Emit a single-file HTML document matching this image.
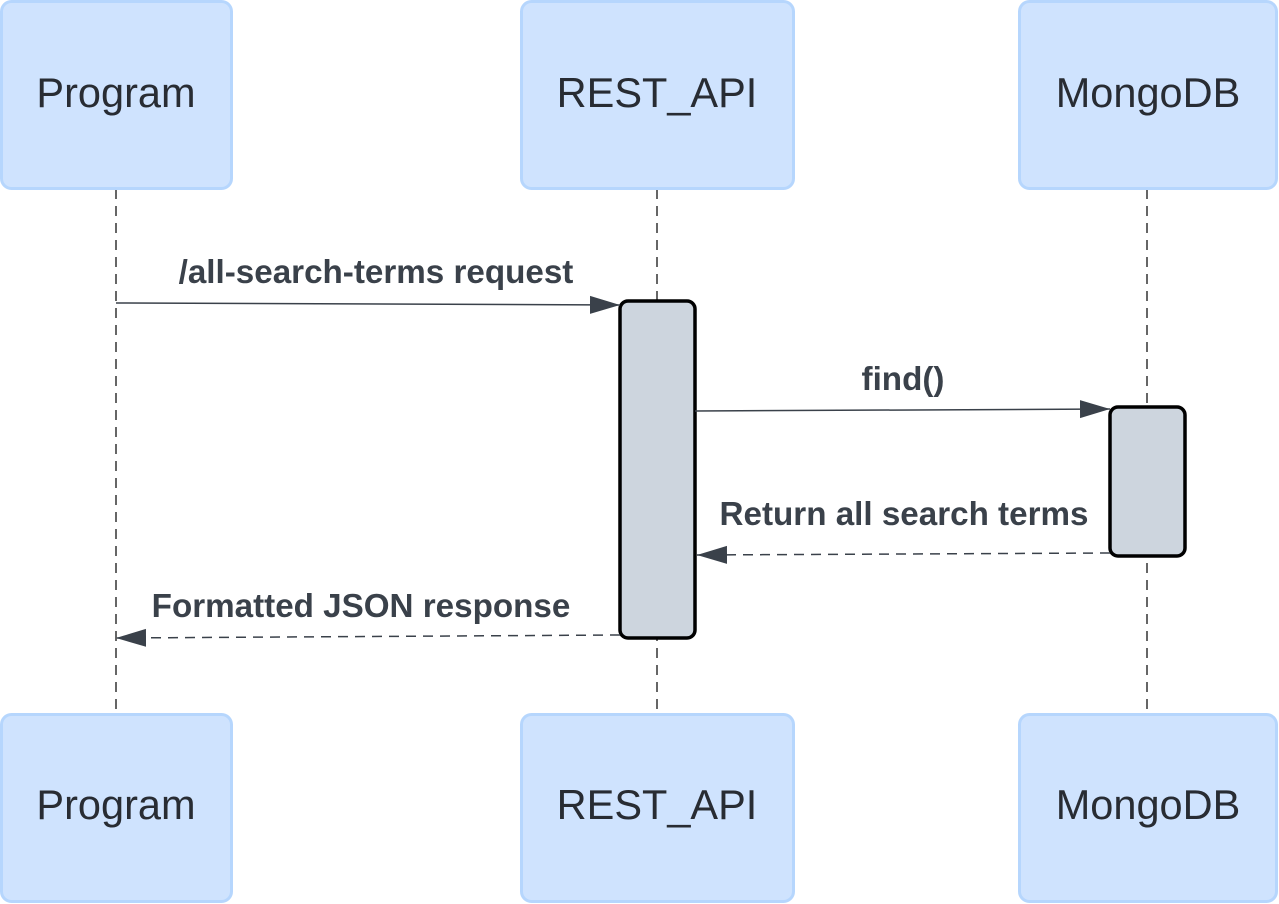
<!DOCTYPE html>
<html><head><style>body{margin:0;background:#fff}svg{display:block}</style></head><body>
<svg width="1279" height="904" xmlns="http://www.w3.org/2000/svg" font-family="Liberation Sans, sans-serif">
<defs>
<marker id="b" viewBox="0 0 30 20" markerWidth="30" markerHeight="20" refX="30" refY="10" orient="auto" markerUnits="userSpaceOnUse">
<path d="M0,1 L30,10 L0,19 z" fill="#3a414a"/></marker>
</defs>
<g stroke="#333" stroke-width="1.5" stroke-dasharray="10,7">
<line x1="116" y1="189" x2="116" y2="714"/>
<line x1="657" y1="189" x2="657" y2="714"/>
<line x1="1147" y1="189" x2="1147" y2="714"/>
</g>
<g fill="#cfe3fe" stroke="#b6d6fd" stroke-width="3">
<rect x="1.5" y="1.5" width="230" height="187" rx="10"/>
<rect x="521.5" y="1.5" width="272" height="187" rx="10"/>
<rect x="1019.5" y="1.5" width="257" height="187" rx="10"/>
<rect x="1.5" y="714.5" width="230" height="187" rx="10"/>
<rect x="521.5" y="714.5" width="272" height="187" rx="10"/>
<rect x="1019.5" y="714.5" width="257" height="187" rx="10"/>
</g>
<g font-size="41.5" fill="#282c33" text-anchor="middle">
<text x="116" y="107">Program</text>
<text x="657" y="107">REST_API</text>
<text x="1148" y="107">MongoDB</text>
<text x="116" y="819">Program</text>
<text x="657" y="819">REST_API</text>
<text x="1148" y="819">MongoDB</text>
</g>
<g fill="#cdd5de" stroke="#000" stroke-width="3.5">
<rect x="620" y="301" width="75" height="337" rx="8"/>
<rect x="1110" y="407" width="75" height="149" rx="8"/>
</g>
<g stroke="#3a414a" stroke-width="1.5" fill="none">
<line x1="116" y1="303" x2="620" y2="305" marker-end="url(#b)"/>
<line x1="695" y1="411" x2="1110" y2="409" marker-end="url(#b)"/>
<line x1="1110" y1="553" x2="697" y2="555" stroke-dasharray="10,7" marker-end="url(#b)"/>
<line x1="620" y1="635" x2="116" y2="638" stroke-dasharray="10,7" marker-end="url(#b)"/>
</g>
<g font-size="33.2" font-weight="bold" fill="#3a414a" text-anchor="middle">
<text x="376" y="283">/all-search-terms request</text>
<text x="903" y="390">find()</text>
<text x="904" y="525">Return all search terms</text>
<text x="361" y="617">Formatted JSON response</text>
</g>
</svg>
</body></html>
